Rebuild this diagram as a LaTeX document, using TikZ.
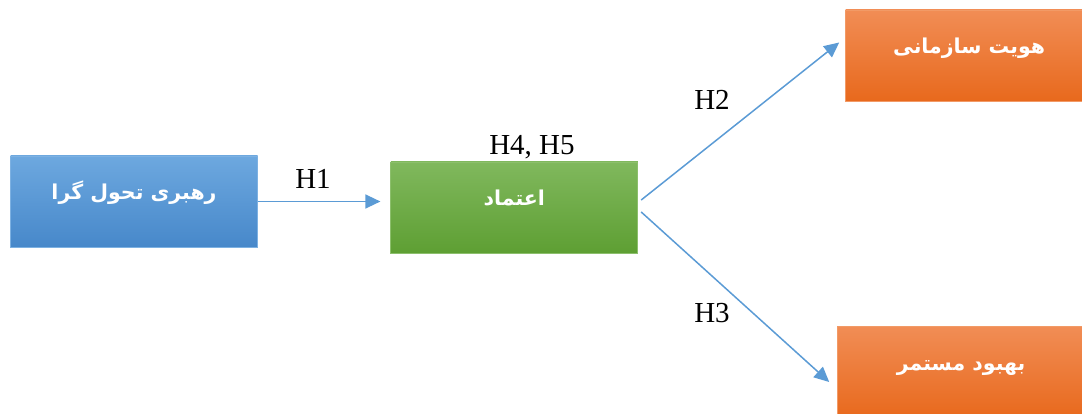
\documentclass[tikz,border=0pt]{standalone}
\usepackage{fontspec}
\setmainfont{Liberation Serif}
\newfontfamily\farsifont[Script=Arabic]{DejaVu Sans}
\TeXXeTstate=1
\usetikzlibrary{positioning,arrows.meta,calc}
\definecolor{leadtop}{HTML}{6DA8DF}
\definecolor{leadbot}{HTML}{4788CA}
\definecolor{leadedge}{HTML}{7DB1E2}
\definecolor{trusttop}{HTML}{80B85D}
\definecolor{trustbot}{HTML}{5E9F33}
\definecolor{trustedge}{HTML}{8CBF6C}
\definecolor{outtop}{HTML}{F18D55}
\definecolor{outbot}{HTML}{E8691D}
\definecolor{outedge}{HTML}{F29A66}
\definecolor{linkblue}{HTML}{5B9BD5}
\tikzset{
  var box/.style={
    rectangle,
    minimum width=247pt,
    minimum height=91pt,
    inner sep=0pt,
    text height=10pt,
    text depth=14pt,
    line width=0.8pt,
    text=white,
    font=\farsifont\bfseries\fontsize{20.5}{24}\selectfont,
  },
  lead box/.style={var box, draw=leadedge, top color=leadtop, bottom color=leadbot},
  trust box/.style={var box, draw=trustedge, top color=trusttop, bottom color=trustbot},
  out box/.style={var box, draw=outedge, top color=outtop, bottom color=outbot},
  hyp arrow/.style={-{Triangle[length=15pt,width=14pt]}, line width=1.5pt, draw=linkblue},
  hyp label/.style={font=\fontsize{29}{33}\selectfont, inner sep=0pt},
}
\begin{document}
\begin{tikzpicture}[x=1pt,y=-1pt]
  \useasboundingbox (0,0) rectangle (1082,414);

  \node[lead box] (lead) at (134,201.5) {\beginR رهبری تحول گرا\endR};
  \node[trust box,right=132.5pt of lead,yshift=-6pt] (trust) {\beginR اعتماد\endR};
  \node[out box,right=207pt of trust,yshift=152pt] (ident) {\beginR هویت سازمانی\endR};
  \node[out box,right=199pt of trust,yshift=-164.5pt] (improve) {\beginR بهبود مستمر\endR};

  \draw[hyp arrow,shorten >=10pt] (lead.east) -- (lead.east -| trust.west);
  \draw[hyp arrow] ($(trust.east)+(3,-7.5)$) -- ($(ident.west)+(-6,-13)$);
  \draw[hyp arrow] ($(trust.east)+(3,4.5)$) -- ($(improve.west)+(-8,10)$);

  \node[hyp label] (h1) at (313,179) {H1};
  \node[hyp label] (h45) at (532,147) {H4, H5};
  \node[hyp label] (h2) at (712,100) {H2};
  \node[hyp label] (h3) at (712,313) {H3};
\end{tikzpicture}
\end{document}
